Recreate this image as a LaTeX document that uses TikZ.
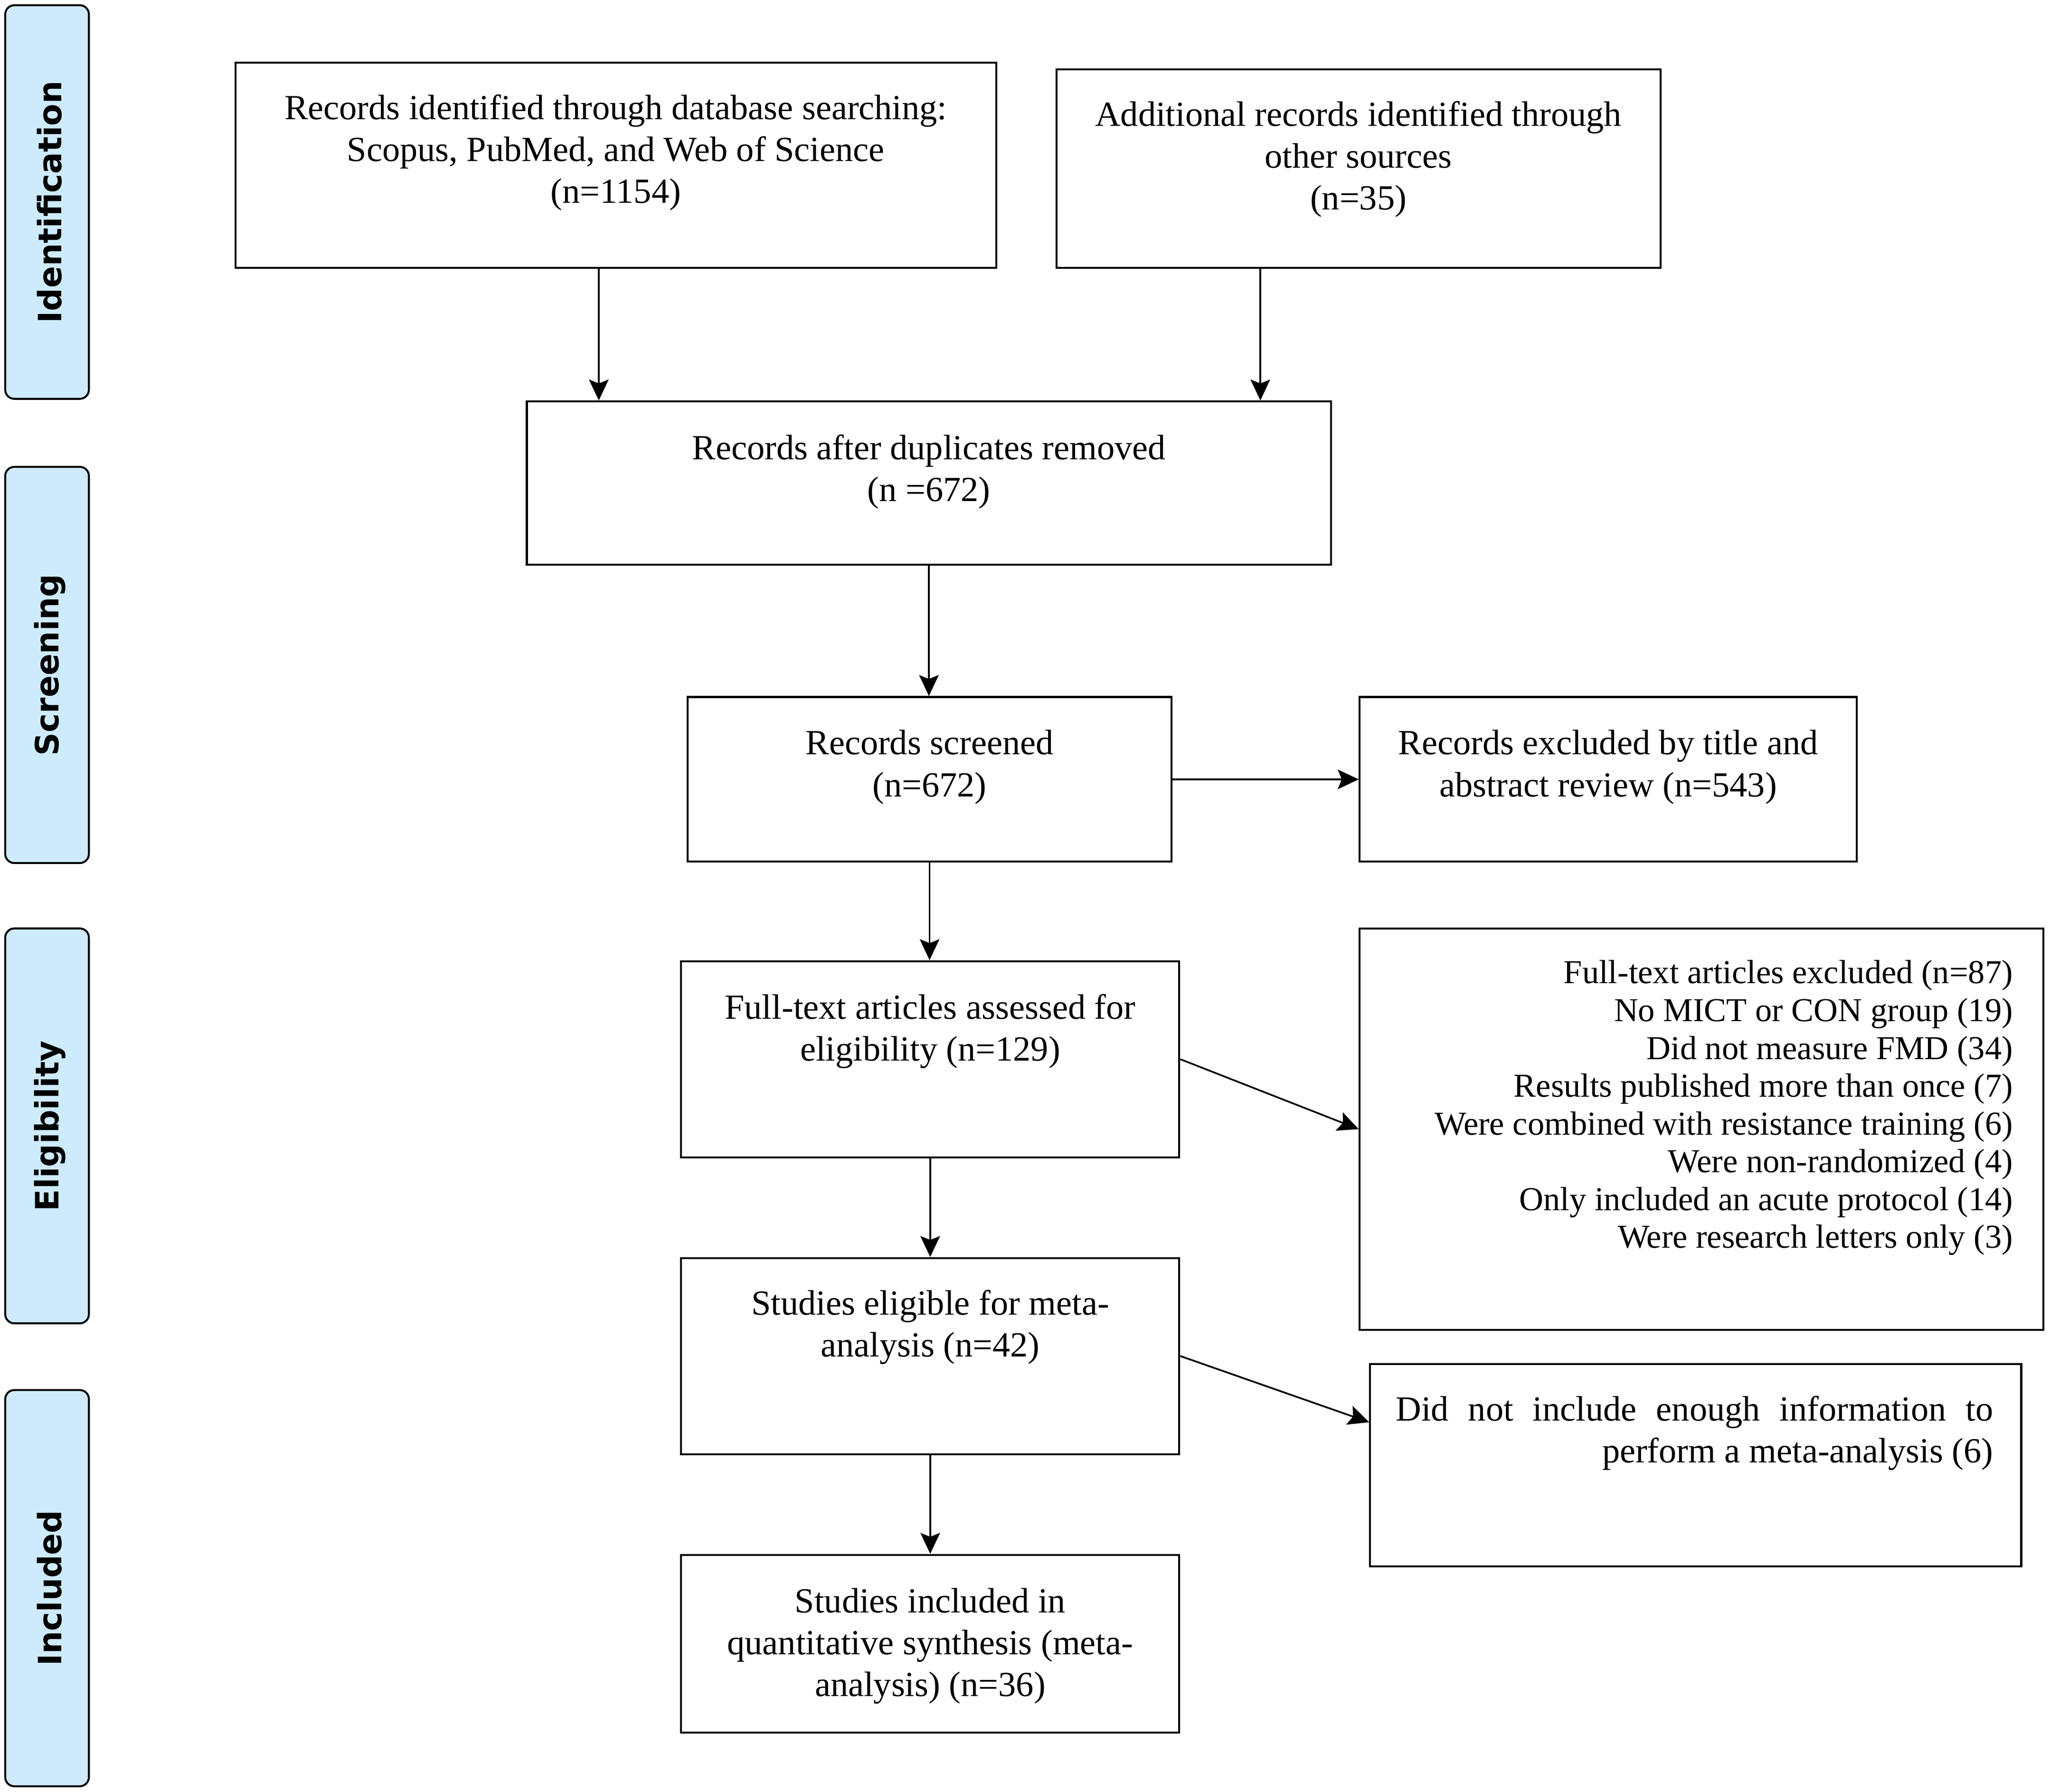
\documentclass[tikz,border=0pt]{standalone}
\usepackage{fontspec}
\setmainfont{Liberation Serif}
\newfontfamily\stagefont{DejaVu Sans}
\usetikzlibrary{fit,calc,arrows.meta}
\definecolor{stagefill}{HTML}{CDEBFD}
\tikzset{
  box/.style={draw=black, line width=0.75pt, inner sep=0pt, fill=white},
  stagebox/.style={draw=black, line width=0.75pt, inner sep=0pt, fill=stagefill, rounded corners=3.5pt},
  stagetxt/.style={font=\stagefont\bfseries\fontsize{12.3}{14}\selectfont, rotate=90, inner sep=0pt},
  txt/.style={font=\fontsize{13.5}{16}\selectfont, align=center, inner sep=0pt},
  listtxt/.style={font=\fontsize{12.8}{14.45}\selectfont, align=right, inner sep=0pt},
  arr/.style={line width=0.65pt, -{Stealth[length=8pt,width=7.5pt,inset=1.5pt]}}
}
\begin{document}
\begin{tikzpicture}[x=0.5pt,y=-0.5pt]
\useasboundingbox (0,0) rectangle (1568,1370.4);
% stage bars
\node[stagebox, fit={(4,4) (68,305)}] (s1) {};
\node[stagebox, fit={(4,357) (68,660)}] (s2) {};
\node[stagebox, fit={(4,710) (68,1012)}] (s3) {};
\node[stagebox, fit={(4,1063) (68,1366)}] (s4) {};
\node[stagetxt] (s1t) at ([xshift=1pt]s1.center) {Identification};
\node[stagetxt] (s2t) at ([xshift=1pt]s2.center) {Screening};
\node[stagetxt] (s3t) at ([xshift=1pt]s3.center) {Eligibility};
\node[stagetxt] (s4t) at ([xshift=1pt]s4.center) {Included};
% boxes
\node[box, fit={(180,48) (762,205)}] (A) {};
\node[box, fit={(808,53) (1270,205)}] (B) {};
\node[box, fit={(403,307) (1018,432)}] (C) {};
\node[box, fit={(526,533) (896,659)}] (D) {};
\node[box, fit={(1040,533) (1420,659)}] (E) {};
\node[box, fit={(521,735) (902,885)}] (F) {};
\node[box, fit={(1040,710) (1563,1017)}] (G) {};
\node[box, fit={(521,962) (902,1112)}] (H) {};
\node[box, fit={(1048,1043) (1546,1198)}] (I) {};
\node[box, fit={(521,1189) (902,1325)}] (J) {};
% texts
\node[txt, anchor=north] (At) at (471,72) {Records identified through database searching:\\Scopus, PubMed, and Web of Science\\(n=1154)};
\node[txt, anchor=north] (Bt) at (1039,77) {Additional records identified through\\other sources\\(n=35)};
\node[txt, anchor=north] (Ct) at (710.5,332) {Records after duplicates removed\\(n =672)};
\node[txt, anchor=north] (Dt) at (711,558) {Records screened\\(n=672)};
\node[txt, anchor=north] (Et) at (1230,558) {Records excluded by title and\\abstract review (n=543)};
\node[txt, anchor=north] (Ft) at (711.5,760) {Full-text articles assessed for\\eligibility (n=129)};
\node[listtxt, anchor=north east] (Gt) at (1540,734) {Full-text articles excluded (n=87)\\No MICT or CON group (19)\\Did not measure FMD (34)\\Results published more than once (7)\\Were combined with resistance training (6)\\Were non-randomized (4)\\Only included an acute protocol (14)\\Were research letters only (3)};
\node[txt, anchor=north] (Ht) at (711.5,986) {Studies eligible for meta-\\analysis (n=42)};
\node[txt, align=right, anchor=north east] (It) at (1525,1067) {\makebox[228.5pt][s]{Did not include enough information to}\\perform a meta-analysis (6)};
\node[txt, anchor=north] (Jt) at (711.5,1214) {Studies included in\\quantitative synthesis (meta-\\analysis) (n=36)};
% connectors
\coordinate (xa) at (458,0);
\coordinate (xb) at (964,0);
\draw[arr] (xa |- A.south) -- (xa |- C.north);
\draw[arr] (xb |- B.south) -- (xb |- C.north);
\draw[arr] (C.south) -- (C.south |- D.north);
\draw[arr] (D.east) -- (D.east -| E.west);
\draw[arr] (D.south) -- (D.south |- F.north);
\draw[arr] (F.east) -- (G.west);
\draw[arr] (F.south) -- (F.south |- H.north);
\draw[arr] (H.east) -- ($(I.north west)!0.29!(I.south west)$);
\draw[arr] (H.south) -- (H.south |- J.north);
\end{tikzpicture}
\end{document}
